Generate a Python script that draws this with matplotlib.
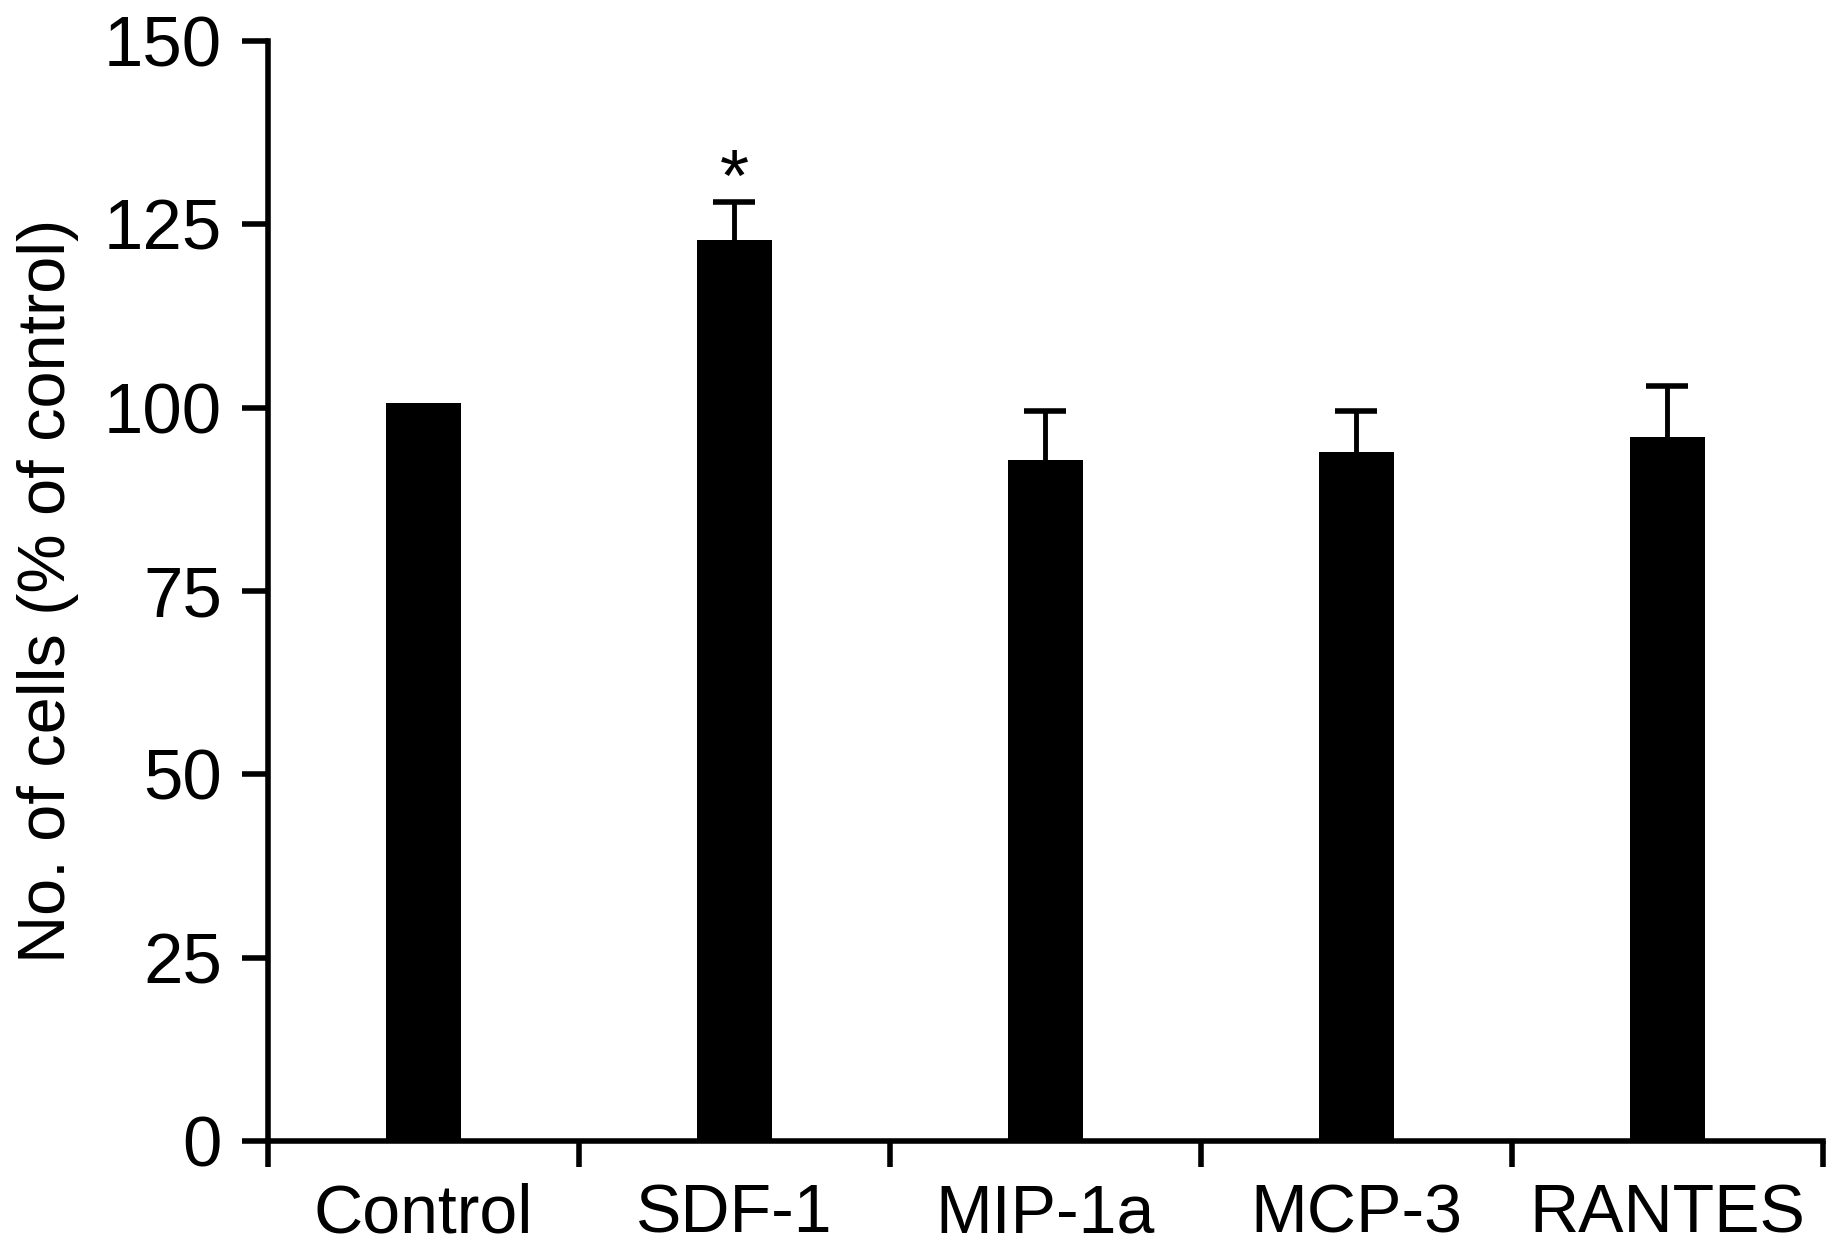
import matplotlib
matplotlib.use("Agg")
import matplotlib.pyplot as plt

groups = ["Control", "SDF-1", "MIP-1a", "MCP-3", "RANTES"]
means = [100.6, 122.8, 92.8, 94.0, 96.0]
errs = [0.0, 5.2, 6.7, 5.6, 7.0]
sig_marks = ["", "*", "", "", ""]
y_ticks = [0, 25, 50, 75, 100, 125, 150]

plt.rcParams['font.family'] = ['Liberation Sans', 'DejaVu Sans']

fig = plt.figure(figsize=(18.44, 12.52), dpi=100)
ax = fig.add_axes([0.1453, 0.0887, 0.8433, 0.8786])

x = list(range(len(groups)))
ax.bar(x, means, width=0.24, color='black', zorder=2)

# only upper error bars, skip bars with no error
ex = [xi for xi, e in zip(x, errs) if e > 0]
em = [m for m, e in zip(means, errs) if e > 0]
ee = [e for e in errs if e > 0]
_, caps, _ = ax.errorbar(ex, em, yerr=[[0] * len(ee), ee], fmt='none', ecolor='black',
                         elinewidth=3.5, capsize=15, capthick=4, zorder=1)
caps[0].set_visible(False)

for xi, m, e, s in zip(x, means, errs, sig_marks):
    if s:
        ax.text(xi, m + e - 1.8, s, ha='center', va='bottom', fontsize=54)

ax.set_xlim(-0.5, len(groups) - 0.5)
ax.set_ylim(0, 150)
ax.set_yticks(y_ticks)
ax.set_yticklabels([str(v) for v in y_ticks], fontsize=51)

ax.set_xticks(x)
ax.set_xticklabels(groups, fontsize=49)
ax.set_xticks([i - 0.5 for i in range(len(groups) + 1)], minor=True)
ax.tick_params(axis='x', which='major', length=0, pad=30)
ax.tick_params(axis='x', which='minor', length=19, width=4, direction='out')
ax.tick_params(axis='y', length=19, width=4, direction='out', pad=14)

for side in ['top', 'right']:
    ax.spines[side].set_visible(False)
for side in ['left', 'bottom']:
    ax.spines[side].set_linewidth(4)

ax.set_ylabel("No. of cells (% of control)", fontsize=48, labelpad=18)

fig.savefig("out.png", dpi=100)
